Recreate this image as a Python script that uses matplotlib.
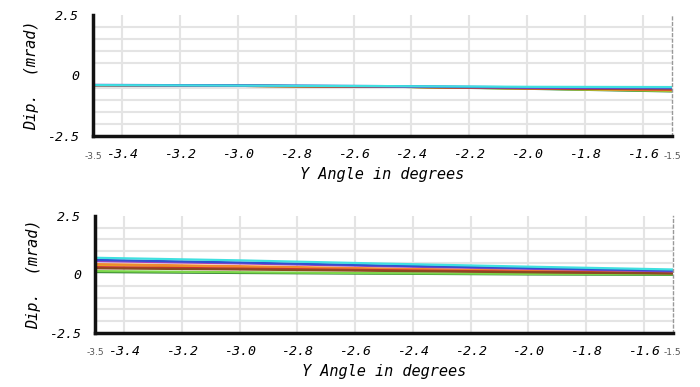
import numpy as np
import matplotlib.pyplot as plt

# sample angles (degrees)
y_angle = [-3.5, -3.0, -2.5, -2.0, -1.5]

colors = ["#2e7d32", "#7cd64a", "#e0b020", "#f08a30", "#d03030", "#8a4a20",
          "#a040c0", "#3050d0", "#40e0e0"]

# top panel: Dip. (mrad) per field, nearly overlapping
top_series = [
    [-0.40, -0.43, -0.46, -0.55, -0.66],
    [-0.40, -0.43, -0.46, -0.54, -0.64],
    [-0.40, -0.43, -0.46, -0.54, -0.62],
    [-0.40, -0.43, -0.46, -0.53, -0.60],
    [-0.40, -0.43, -0.46, -0.53, -0.58],
    [-0.40, -0.43, -0.46, -0.52, -0.56],
    [-0.40, -0.42, -0.45, -0.51, -0.53],
    [-0.39, -0.41, -0.44, -0.49, -0.50],
    [-0.40, -0.42, -0.44, -0.47, -0.48],
]

# bottom panel
bottom_series = [
    [0.10, 0.06, 0.03, 0.00, -0.02],
    [0.14, 0.09, 0.05, 0.02, 0.00],
    [0.40, 0.32, 0.22, 0.14, 0.07],
    [0.44, 0.35, 0.25, 0.16, 0.08],
    [0.31, 0.25, 0.18, 0.11, 0.05],
    [0.26, 0.21, 0.15, 0.09, 0.04],
    [0.57, 0.47, 0.35, 0.24, 0.13],
    [0.62, 0.51, 0.38, 0.27, 0.16],
    [0.71, 0.60, 0.46, 0.33, 0.21],
]

xticks = [-3.4, -3.2, -3.0, -2.8, -2.6, -2.4, -2.2, -2.0, -1.8, -1.6]
yticks = [2.5, 0, -2.5]

mono = {"family": "DejaVu Sans Mono", "style": "italic"}

fig = plt.figure(figsize=(7, 3.87), dpi=100)
ax_top = fig.add_axes([0.133, 0.649, 0.827, 0.312])
ax_bot = fig.add_axes([0.136, 0.140, 0.825, 0.302])


def style_panel(ax, series):
    for s, c in zip(series, colors):
        ax.plot(y_angle, s, color=c, lw=1.6)
    ax.set_xlim(-3.5, -1.5)
    ax.set_ylim(-2.5, 2.5)
    ax.set_xticks(xticks)
    ax.set_xticklabels([f"{t:.1f}" for t in xticks], fontdict=mono, fontsize=9.5)
    ax.set_yticks(yticks)
    ax.set_yticklabels(["2.5", "0", "-2.5"], fontdict=mono, fontsize=9.5)
    ax.set_yticks(np.arange(-2.5, 2.6, 0.5), minor=True)
    ax.grid(True, which="major", axis="x", color="#e4e4e4", lw=1.5)
    ax.grid(True, which="minor", axis="y", color="#e4e4e4", lw=1.5)
    ax.set_axisbelow(True)
    ax.tick_params(length=0, which="both")
    ax.tick_params(axis="x", pad=9)
    ax.tick_params(axis="y", pad=10)
    ax.spines["top"].set_visible(False)
    ax.spines["left"].set_color("#111111")
    ax.spines["left"].set_linewidth(2.5)
    ax.spines["bottom"].set_color("#111111")
    ax.spines["bottom"].set_linewidth(2.5)
    ax.spines["right"].set_color("#999999")
    ax.spines["right"].set_linestyle((0, (2, 2)))
    ax.spines["right"].set_linewidth(1.0)
    ax.set_ylabel("Dip.  (mrad)", fontdict=mono, fontsize=11, labelpad=6)
    ax.set_xlabel("Y Angle in degrees", fontdict=mono, fontsize=11, labelpad=4)
    # small end labels
    ax.text(-3.5, -0.13, "-3.5", transform=ax.get_xaxis_transform(), ha="center",
            va="top", fontsize=6.5, color="#555555", family="DejaVu Sans")
    ax.text(-1.5, -0.13, "-1.5", transform=ax.get_xaxis_transform(), ha="center",
            va="top", fontsize=6.5, color="#555555", family="DejaVu Sans")


style_panel(ax_top, top_series)
style_panel(ax_bot, bottom_series)

fig.savefig("out.png", dpi=100)
